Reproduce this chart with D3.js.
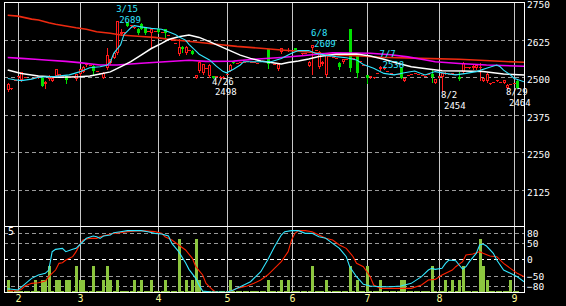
<!DOCTYPE html>
<html>
<head>
<meta charset="utf-8">
<script src="https://cdn.jsdelivr.net/npm/d3@7"></script>
<style>
  body { margin: 0; background: #000; }
  svg text { font-family: "DejaVu Sans Mono", monospace; }
</style>
</head>
<body>
<div id="chart"></div>
<script>
// month tick labels and the trading-day index where each month starts
var monthLabels = ["2", "3", "4", "5", "6", "7", "8", "9"];
var monthIdx = [3, 21, 44, 64, 83, 105, 126, 148];

var priceTicks = [2125, 2250, 2375, 2500, 2625, 2750];
var oscTicks = [80, 50, 0, -50, -80];

// daily candles [open, high, low, close]
var candles = [
  [2458,2481,2456,2478],[2462,2466,2461,2465],[2491,2491,2491,2491],[2500,2505,2498,2503],[2490,2519,2488,2517],
  [2500,2500,2500,2500],[2496,2496,2496,2496],[2497,2497,2497,2497],[2500,2500,2500,2500],[2500,2504,2499,2503],
  [2499,2500,2470,2472],[2478,2487,2463,2485],[2494,2507,2492,2505],[2489,2500,2487,2499],[2505,2529,2503,2527],
  [2502,2512,2500,2510],[2505,2505,2505,2505],[2505,2506,2480,2491],[2500,2500,2500,2500],[2505,2505,2505,2505],
  [2494,2511,2492,2510],[2510,2528,2508,2527],[2519,2537,2517,2535],[2541,2549,2539,2547],[2540,2540,2540,2540],
  [2538,2540,2507,2522],[2520,2520,2520,2520],[2515,2515,2515,2515],[2499,2517,2497,2515],[2530,2597,2528,2574],
  [2548,2562,2545,2560],[2565,2584,2563,2582],[2580,2689,2578,2688],[2645,2660,2640,2652],[2648,2652,2647,2651],
  [2681,2683,2670,2672],[2670,2674,2669,2673],[2665,2669,2664,2668],[2662,2664,2646,2648],[2678,2680,2660,2662],
  [2667,2669,2646,2648],[2655,2655,2655,2655],[2649,2662,2601,2660],[2655,2655,2655,2655],[2662,2664,2648,2650],
  [2650,2650,2650,2650],[2660,2662,2630,2647],[2640,2640,2640,2640],[2625,2625,2625,2625],[2615,2615,2615,2615],
  [2577,2629,2575,2600],[2602,2603,2585,2593],[2580,2604,2578,2602],[2590,2590,2590,2590],[2589,2590,2577,2579],
  [2499,2508,2498,2507],[2521,2554,2519,2552],[2513,2545,2511,2543],[2530,2530,2530,2530],[2504,2543,2502,2541],
  [2504,2505,2498,2499],[2505,2505,2505,2505],[2499,2503,2498,2502],[2500,2503,2499,2502],[2510,2510,2510,2510],
  [2522,2543,2520,2541],[2551,2552,2547,2548],[2548,2548,2548,2548],[2552,2552,2552,2552],[2550,2550,2550,2550],
  [2553,2553,2553,2553],[2550,2550,2550,2550],[2552,2552,2552,2552],[2549,2549,2549,2549],[2553,2553,2553,2553],
  [2555,2555,2555,2555],[2593,2595,2530,2546],[2550,2550,2550,2550],[2545,2545,2545,2545],[2527,2545,2525,2543],
  [2583,2599,2581,2597],[2590,2590,2590,2590],[2588,2597,2587,2591],[2592,2592,2592,2592],[2597,2598,2587,2589],
  [2590,2590,2590,2590],[2578,2582,2577,2581],[2580,2580,2580,2580],[2539,2554,2537,2552],[2598,2609,2512,2607],
  [2590,2590,2590,2590],[2534,2587,2532,2585],[2543,2553,2541,2551],[2507,2576,2505,2574],[2572,2572,2572,2572],
  [2568,2568,2568,2568],[2565,2565,2565,2565],[2548,2550,2528,2533],[2550,2562,2548,2560],[2560,2560,2560,2560],
  [2660,2662,2521,2532],[2565,2565,2565,2565],[2577,2579,2501,2515],[2552,2556,2551,2555],[2540,2540,2540,2540],
  [2507,2509,2482,2498],[2500,2503,2499,2503],[2500,2502,2499,2502],[2515,2515,2515,2515],[2528,2538,2526,2534],
  [2528,2532,2527,2531],[2520,2520,2520,2520],[2515,2515,2515,2515],[2512,2512,2512,2512],[2510,2510,2510,2510],
  [2531,2533,2497,2499],[2489,2499,2487,2498],[2508,2508,2508,2508],[2512,2512,2512,2512],[2515,2515,2515,2515],
  [2512,2512,2512,2512],[2508,2508,2508,2508],[2506,2506,2506,2506],[2510,2510,2510,2510],[2510,2524,2485,2502],
  [2482,2494,2480,2493],[2500,2505,2499,2504],[2501,2516,2454,2514],[2512,2517,2511,2516],[2512,2512,2512,2512],
  [2514,2516,2513,2516],[2510,2510,2510,2510],[2502,2519,2492,2494],[2518,2551,2516,2549],[2535,2535,2535,2535],
  [2533,2536,2532,2535],[2530,2540,2528,2538],[2530,2542,2528,2541],[2530,2548,2492,2535],[2489,2499,2487,2498],
  [2488,2514,2486,2512],[2478,2482,2477,2481],[2485,2485,2485,2485],[2489,2492,2488,2491],[2486,2486,2486,2486],
  [2482,2491,2480,2490],[2464,2478,2464,2476],[2478,2478,2478,2478],[2482,2482,2482,2482],[2488,2490,2463,2465]
];

// volume (scale top = 5)
var volumes = [
  0.95,0.1,0.1,0.1,0.1,0.1,0.1,0.1,0.95,0.1,
  0.95,0.95,2,0.1,0.95,0.95,0.1,0.95,0.95,0.1,
  2,0.95,0.95,0.1,0.1,2,0.1,0.1,0.95,2,
  0.95,0.1,0.95,0.1,0.1,0.1,0.1,0.95,0.1,0.95,
  0.1,0.1,0.95,0.1,0.1,0.1,0.95,0.1,0.1,0.1,
  4,0.1,0.95,0.1,0.95,4,0.95,0.1,0.1,0.1,
  0.1,0.1,0.1,0.1,0.1,0.95,0.1,0.1,0.1,0.1,
  0.1,0.1,0.1,0.1,0.1,0.1,0.95,0.1,0.1,0.1,
  0.95,0.1,0.95,0.1,0.1,0.1,0.1,0.1,0.1,2,
  0.1,0.1,0.1,0.95,0.1,0.1,0.1,0.1,0.1,0.1,
  2,0.1,0.95,0.1,0.1,2,0.1,0.1,0.1,0.95,
  0.1,0.1,0.1,0.1,0.1,0.95,0.95,0.1,0.1,0.1,
  0.1,0.1,0.1,0.1,2,0.1,0.1,0.1,0.95,0.1,
  0.95,0.1,0.95,2,0.1,0.1,0.1,0.1,4,2,
  0.95,0.1,0.1,0.1,0.1,0.1,0.1,0.95,0.1,0.1
];

// moving averages, [day index, price]
var maLong1 = [[0,2707],[3,2704],[5,2699],[7,2694],[9,2691],[12,2682],[14,2677],[17,2671],[20,2665],[23,2660],
  [26,2652],[30,2647],[33,2641],[39,2636],[43,2633],[47,2627],[52,2621],[57,2615],[61,2610],[67,2603],[74,2597],
  [80,2591],[87,2585],[91,2580],[97,2574],[103,2571],[109,2567],[121,2563],[132,2560],[141,2555],[151,2550]];
var maLong2 = [[0,2566],[4,2563],[8,2560],[12,2557],[17,2553],[21,2549],[27,2541],[32,2541],[39,2547],[46,2552],
  [53,2557],[58,2553],[66,2554],[72,2560],[80,2566],[86,2572],[95,2582],[106,2580],[112,2575],[117,2568],
  [121,2560],[125,2552],[132,2546],[140,2541],[151,2537]];
var maMid = [[0,2524],[4,2513],[9,2504],[15,2500],[21,2502],[24,2504],[27,2511],[30,2518],[33,2535],[36,2552],
  [39,2574],[42,2596],[45,2613],[47,2626],[50,2635],[53,2641],[56,2633],[59,2619],[62,2604],[65,2589],[68,2574],
  [71,2563],[74,2554],[77,2549],[80,2544],[82,2549],[85,2554],[88,2561],[91,2569],[96,2577],[102,2578],[106,2571],
  [110,2560],[114,2547],[118,2535],[123,2528],[127,2522],[133,2521],[139,2519],[145,2511],[151,2508]];
var maShort = [[0,2496],[2,2492],[4,2489],[7,2494],[9,2500],[14,2503],[18,2508],[21,2518],[24,2532],[27,2535],
  [29,2540],[30,2550],[31,2580],[33,2608],[34,2642],[36,2665],[37,2672],[39,2668],[42,2663],[45,2660],[47,2652],
  [49,2643],[50,2635],[52,2624],[53,2610],[55,2588],[56,2577],[59,2558],[61,2537],[63,2519],[64,2515],[66,2527],
  [68,2541],[69,2552],[77,2552],[80,2563],[83,2580],[85,2589],[88,2589],[90,2580],[93,2574],[96,2569],[99,2565],
  [102,2558],[104,2543],[107,2530],[110,2513],[113,2508],[116,2515],[119,2521],[122,2508],[125,2519],[128,2513],
  [131,2508],[134,2513],[137,2519],[140,2530],[143,2541],[144,2535],[145,2524],[147,2508],[148,2497],[151,2485]];

// oscillators, [day index, value]
var oscFast = [[0,-88],[3,-92],[7,-57],[9,-47],[11,-42],[12,-32],[13,23],[14,30],[16,33],[17,23],[19,30],[20,33],
  [21,43],[23,63],[25,70],[26,68],[27,63],[28,70],[30,73],[31,80],[33,83],[35,86],[39,86],[41,83],[43,78],[45,76],
  [47,70],[48,48],[50,23],[52,-10],[53,-30],[55,-57],[56,-78],[57,-95],[59,-97],[64,-99],[66,-92],[68,-82],[71,-67],
  [74,-37],[76,-2],[78,38],[80,73],[81,83],[83,86],[85,86],[87,78],[89,78],[91,68],[93,63],[95,48],[97,33],[99,8],
  [100,-22],[102,-52],[104,-75],[106,-80],[109,-82],[112,-82],[115,-80],[118,-72],[121,-52],[123,-32],[124,-27],
  [125,-30],[127,-27],[128,-12],[129,-2],[131,-4],[132,-17],[133,-29],[134,-22],[135,-7],[137,18],[138,43],[139,46],
  [140,40],[142,18],[143,-2],[145,-32],[147,-42],[149,-52],[151,-67]];
var oscSlow = [[0,-94],[3,-94],[4,-90],[5,-80],[7,-72],[9,-70],[11,-65],[12,-52],[14,-32],[15,-12],[16,-10],[17,-2],
  [19,8],[20,23],[21,43],[22,58],[24,63],[26,63],[27,68],[29,73],[31,78],[33,80],[35,83],[39,86],[43,83],[45,78],
  [46,68],[48,58],[50,43],[52,28],[54,3],[55,-22],[57,-47],[58,-72],[60,-92],[61,-100],[64,-100],[66,-92],[67,-87],
  [70,-80],[72,-72],[74,-62],[76,-47],[78,-27],[80,-7],[82,23],[83,58],[84,78],[85,86],[87,86],[89,83],[91,73],
  [93,63],[95,58],[97,43],[99,33],[101,8],[102,-12],[104,-22],[106,-52],[107,-77],[109,-87],[118,-87],[121,-77],
  [123,-62],[125,-60],[127,-47],[130,-32],[131,-22],[133,-7],[134,13],[136,16],[138,23],[139,18],[141,10],[143,8],
  [145,-12],[147,-27],[149,-42],[151,-52]];

// high / low marks
var markDates = ["3/15", "4/26", "6/8", "7/7", "8/2", "8/29"];
var markIdx = [32, 60, 89, 109, 127, 146];
var markPrices = [2689, 2498, 2609, 2538, 2454, 2464];
var markKinds = ["high", "low", "high", "high", "low", "low"];

var svgWidth = 566, svgHeight = 306;
var plotLeft = 4, plotRight = 524, plotTop = 2, plotSep = 226, plotBottom = 292;

var RED = "#ff1a1a", GREEN = "#00e000", CYAN = "#33e6ff";

var svg = d3.select("#chart").append("svg")
  .attr("width", svgWidth)
  .attr("height", svgHeight)
  .style("display", "block");

svg.append("rect").attr("width", svgWidth).attr("height", svgHeight).attr("fill", "#000");

var defs = svg.append("defs");
defs.append("clipPath").attr("id", "clipMain").append("rect")
  .attr("x", plotLeft + 1).attr("y", plotTop + 1)
  .attr("width", plotRight - plotLeft - 1).attr("height", plotSep - plotTop - 1);
defs.append("clipPath").attr("id", "clipLow").append("rect")
  .attr("x", plotLeft + 1).attr("y", plotSep + 1)
  .attr("width", plotRight - plotLeft - 1).attr("height", plotBottom - plotSep - 1);

var x = d3.scaleLinear().domain([0, 150]).range([7.7, 520.7]);
var yPrice = d3.scaleLinear().domain([2000, 2750]).range([227.3, 2.3]);
var yOsc = d3.scaleLinear().domain([-100, 100]).range([292.7, 226]);
var yVol = d3.scaleLinear().domain([0, 5]).range([292.7, 226]);

var px = function(i) { return Math.round(x(i)); };

// horizontal dashed grid
svg.append("g").selectAll("line")
  .data(priceTicks.filter(function(t) { return t < 2750; }))
  .join("line")
  .attr("x1", plotLeft).attr("x2", plotRight)
  .attr("y1", function(d) { return Math.round(yPrice(d)) + 0.5; })
  .attr("y2", function(d) { return Math.round(yPrice(d)) + 0.5; })
  .attr("stroke", "#9a9a9a").attr("stroke-dasharray", "4,3");

svg.append("g").selectAll("line")
  .data(oscTicks)
  .join("line")
  .attr("x1", plotLeft).attr("x2", plotRight)
  .attr("y1", function(d) { return Math.round(yOsc(d)) + 0.5; })
  .attr("y2", function(d) { return Math.round(yOsc(d)) + 0.5; })
  .attr("stroke", function(d) { return d === 0 ? "#ffffff" : "#9a9a9a"; })
  .attr("stroke-dasharray", "4,3");

// month lines
svg.append("g").selectAll("line")
  .data(monthIdx)
  .join("line")
  .attr("x1", function(d) { return px(d) + 0.5; })
  .attr("x2", function(d) { return px(d) + 0.5; })
  .attr("y1", plotTop).attr("y2", plotBottom)
  .attr("stroke", "#c8c8c8");

// volume bars
svg.append("g").attr("clip-path", "url(#clipLow)")
  .attr("shape-rendering", "crispEdges")
  .selectAll("rect")
  .data(volumes)
  .join("rect")
  .attr("x", function(d, i) { return px(i) - 1; })
  .attr("width", 3)
  .attr("y", function(d) { return yVol(d); })
  .attr("height", function(d) { return yVol(0) - yVol(d); })
  .attr("fill", "#8cc63f");

// oscillator lines
var oscLine = d3.line().x(function(d) { return x(d[0]); }).y(function(d) { return yOsc(d[1]); });
var lowPanel = svg.append("g").attr("clip-path", "url(#clipLow)");
lowPanel.append("path").attr("d", oscLine(oscSlow)).attr("fill", "none").attr("stroke", "#ff2200").attr("stroke-width", 1.1);
lowPanel.append("path").attr("d", oscLine(oscFast)).attr("fill", "none").attr("stroke", CYAN).attr("stroke-width", 1.1);

// candles
var main = svg.append("g").attr("clip-path", "url(#clipMain)");
var cg = main.append("g").attr("shape-rendering", "crispEdges")
  .selectAll("g")
  .data(candles)
  .join("g");

cg.each(function(d, i) {
  var g = d3.select(this);
  var o = d[0], h = d[1], l = d[2], c = d[3];
  var up = c >= o;
  var col = up ? RED : GREEN;
  var cx = px(i);
  var yt = Math.round(yPrice(Math.max(o, c)));
  var yb = Math.round(yPrice(Math.min(o, c)));
  g.append("line")
    .attr("x1", cx + 0.5).attr("x2", cx + 0.5)
    .attr("y1", Math.round(yPrice(h))).attr("y2", Math.round(yPrice(l)) + 1)
    .attr("stroke", col);
  if (yb - yt < 2 || !up) {
    g.append("rect")
      .attr("x", cx - 1).attr("width", 3)
      .attr("y", yt).attr("height", Math.max(1, yb - yt))
      .attr("fill", col);
  } else {
    g.append("rect")
      .attr("x", cx - 0.5).attr("width", 2)
      .attr("y", yt + 0.5).attr("height", yb - yt - 1)
      .attr("fill", "#000").attr("stroke", col);
  }
});

// moving averages
var maLine = d3.line().x(function(d) { return x(d[0]); }).y(function(d) { return yPrice(d[1]); });
main.append("path").attr("d", maLine(maLong1)).attr("fill", "none").attr("stroke", "#ee2a10").attr("stroke-width", 1.6);
main.append("path").attr("d", maLine(maLong2)).attr("fill", "none").attr("stroke", "#ee00ee").attr("stroke-width", 1.6);
main.append("path").attr("d", maLine(maMid)).attr("fill", "none").attr("stroke", "#ffffff").attr("stroke-width", 1.5);
main.append("path").attr("d", maLine(maShort)).attr("fill", "none").attr("stroke", CYAN).attr("stroke-width", 1.1);

// high / low annotations
var marks = svg.append("g").style("font-size", "9px");
markDates.forEach(function(label, k) {
  var mx = x(markIdx[k]) - 1;
  var my = yPrice(markPrices[k]);
  var isHigh = markKinds[k] === "high";
  var col = isHigh ? CYAN : "#ffffff";
  marks.append("text").attr("x", mx).attr("y", isHigh ? my - 8.5 : my + 7).attr("fill", col).text(label);
  marks.append("text").attr("x", mx + 3).attr("y", isHigh ? my + 2 : my + 17.5).attr("fill", col).text(markPrices[k]);
});

// frame
var frame = svg.append("g").attr("stroke", "#ffffff").attr("shape-rendering", "crispEdges");
frame.append("line").attr("x1", plotLeft + 0.5).attr("x2", plotLeft + 0.5).attr("y1", plotTop).attr("y2", plotBottom + 1);
frame.append("line").attr("x1", plotRight + 0.5).attr("x2", plotRight + 0.5).attr("y1", plotTop).attr("y2", plotBottom + 1);
frame.append("line").attr("x1", plotLeft).attr("x2", plotRight + 1).attr("y1", plotTop + 0.5).attr("y2", plotTop + 0.5);
frame.append("line").attr("x1", plotLeft).attr("x2", plotRight + 1).attr("y1", plotSep + 0.5).attr("y2", plotSep + 0.5);
frame.append("line").attr("x1", plotLeft).attr("x2", plotRight + 1).attr("y1", plotBottom + 0.5).attr("y2", plotBottom + 0.5);

// right axes
var priceAxis = svg.append("g")
  .attr("transform", "translate(" + (plotRight + 1) + ",0)")
  .call(d3.axisRight(yPrice).tickValues(priceTicks).tickSize(0).tickPadding(2).tickFormat(d3.format("d")));
priceAxis.select(".domain").remove();
priceAxis.selectAll("text").attr("fill", "#fff").attr("dy", "0.58em").style("font-size", "9.5px");

var oscAxis = svg.append("g")
  .attr("transform", "translate(" + (plotRight + 1) + ",0)")
  .call(d3.axisRight(yOsc).tickValues(oscTicks).tickSize(0).tickPadding(2).tickFormat(d3.format("d")));
oscAxis.select(".domain").remove();
oscAxis.selectAll("text").attr("fill", "#fff").attr("dy", "0.37em").style("font-size", "9.5px");

// month axis
var monthAxis = svg.append("g")
  .attr("transform", "translate(0," + (plotBottom + 0.7) + ")")
  .call(d3.axisBottom(x).tickValues(monthIdx).tickSize(0).tickPadding(2)
    .tickFormat(function(d, i) { return monthLabels[i]; }));
monthAxis.select(".domain").remove();
monthAxis.selectAll(".tick").attr("transform", function(d) { return "translate(" + (px(d) + 0.5) + ",0)"; });
monthAxis.selectAll("text").attr("fill", "#ffff99").style("font-size", "10px");

// volume scale label
svg.append("text").attr("x", 8).attr("y", 235).attr("fill", "#fff").style("font-size", "10px").text("5");
</script>
</body>
</html>
